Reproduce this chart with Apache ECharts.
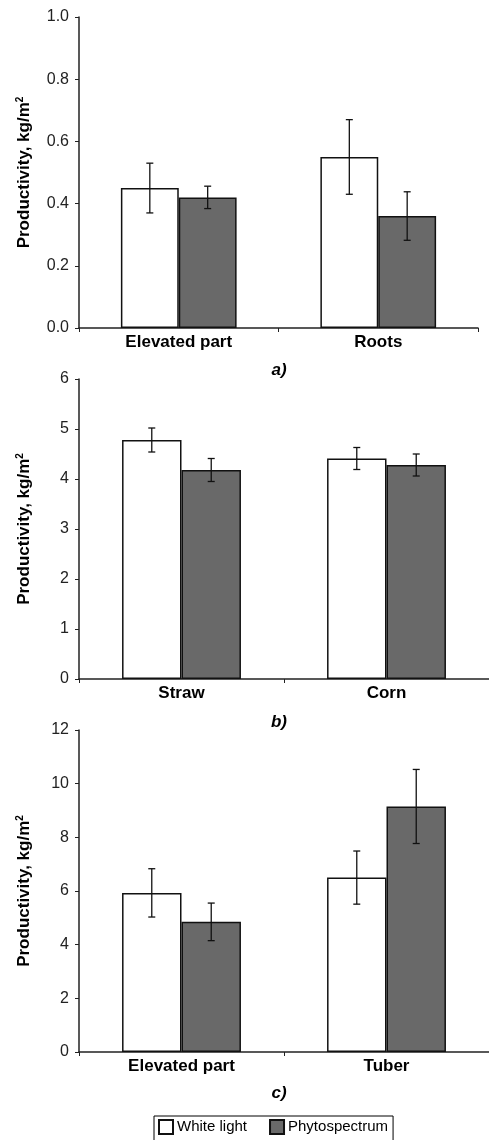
<!DOCTYPE html>
<html>
<head>
<meta charset="utf-8">
<script src="https://cdn.jsdelivr.net/npm/echarts@6/dist/echarts.min.js"></script>
<style>
html,body{margin:0;padding:0;background:#fff;}
#chart{width:489px;height:1140px;}
</style>
</head>
<body>
<div id="chart"></div>
<script>
const seriesNames = ['White light', 'Phytospectrum'];

const catsA = ['Elevated part', 'Roots'];
const whiteA = [0.45, 0.55];
const phytoA = [0.42, 0.36];
const errWhiteA = [0.08, 0.12];
const errPhytoA = [0.036, 0.078];

const catsB = ['Straw', 'Corn'];
const whiteB = [4.78, 4.41];
const phytoB = [4.18, 4.28];
const errWhiteB = [0.24, 0.22];
const errPhytoB = [0.23, 0.22];

const catsC = ['Elevated part', 'Tuber'];
const whiteC = [5.93, 6.5];
const phytoC = [4.85, 9.15];
const errWhiteC = [0.9, 0.99];
const errPhytoC = [0.7, 1.38];

const yMax = [1, 6, 12];
const yInterval = [0.2, 1, 2];
const panelLabels = ['a)', 'b)', 'c)'];

const panels = [
  {cats: catsA, w: whiteA, p: phytoA, ew: errWhiteA, ep: errPhytoA, dec: 1},
  {cats: catsB, w: whiteB, p: phytoB, ew: errWhiteB, ep: errPhytoB, dec: 0},
  {cats: catsC, w: whiteC, p: phytoC, ew: errWhiteC, ep: errPhytoC, dec: 0}
];

const grids = [
  {left: 79, top: 17, width: 399, height: 311},
  {left: 79, top: 379, width: 419, height: 300},
  {left: 79, top: 730, width: 419, height: 322}
];

const GAP = 0.42;
const axisColor = '#222';
const DARK = '#696969';

const xAxes = [], yAxes = [], series = [];
panels.forEach((pn, i) => {
  xAxes.push({
    type: 'category', gridIndex: i, data: pn.cats,
    axisLine: {lineStyle: {color: axisColor, width: 1.5}},
    axisTick: {show: true, length: 4, lineStyle: {color: axisColor}},
    axisLabel: {fontFamily: 'Liberation Sans, Arial, sans-serif', fontWeight: 'bold', fontSize: 17, color: '#000', margin: 6}
  });
  yAxes.push({
    type: 'value', gridIndex: i, min: 0, max: yMax[i], interval: yInterval[i],
    name: 'Productivity, kg/m{sup|2}', nameLocation: 'middle', nameGap: 45,
    nameTextStyle: {fontFamily: 'Liberation Sans, Arial, sans-serif', fontWeight: 'bold', fontSize: 17, color: '#000',
      rich: {sup: {fontSize: 10, fontWeight: 'bold', color: '#000', verticalAlign: 'top', padding: [0, 0, 9, 0]}}},
    splitLine: {show: false},
    axisLine: {show: true, lineStyle: {color: axisColor, width: 1.5}},
    axisTick: {show: true, length: 4, lineStyle: {color: axisColor}},
    axisLabel: {fontFamily: 'Liberation Sans, Arial, sans-serif', fontSize: 16, color: '#222', margin: 10,
      formatter: v => v.toFixed(pn.dec)}
  });
  series.push({
    name: seriesNames[0], type: 'bar', xAxisIndex: i, yAxisIndex: i, data: pn.w,
    barGap: '0%', barCategoryGap: (GAP * 100) + '%',
    itemStyle: {color: '#fff', borderColor: '#111', borderWidth: 1.5}
  });
  series.push({
    name: seriesNames[1], type: 'bar', xAxisIndex: i, yAxisIndex: i, data: pn.p,
    barGap: '0%', barCategoryGap: (GAP * 100) + '%',
    itemStyle: {color: DARK, borderColor: '#111', borderWidth: 1.5}
  });
  const errData = [];
  pn.cats.forEach((c, k) => {
    errData.push([k, pn.w[k] - pn.ew[k], pn.w[k] + pn.ew[k], -1]);
    errData.push([k, pn.p[k] - pn.ep[k], pn.p[k] + pn.ep[k], 1]);
  });
  series.push({
    type: 'custom', xAxisIndex: i, yAxisIndex: i, data: errData, z: 10, silent: true,
    encode: {x: 0, y: [1, 2]},
    renderItem: function (params, api) {
      const k = api.value(0);
      const lo = api.coord([k, api.value(1)]);
      const hi = api.coord([k, api.value(2)]);
      const band = api.size([1, 0])[0];
      const off = api.value(3) * band * (1 - GAP) / 4;
      const x = lo[0] + off;
      const cw = 3.5;
      const st = {stroke: '#111', lineWidth: 1.3};
      return {type: 'group', children: [
        {type: 'line', shape: {x1: x, y1: lo[1], x2: x, y2: hi[1]}, style: st},
        {type: 'line', shape: {x1: x - cw, y1: lo[1], x2: x + cw, y2: lo[1]}, style: st},
        {type: 'line', shape: {x1: x - cw, y1: hi[1], x2: x + cw, y2: hi[1]}, style: st}
      ]};
    }
  });
});

const labelTops = [357, 709, 1080];
const titles = panelLabels.map((t, i) => ({
  text: t, left: 274, top: labelTops[i], textAlign: 'center',
  textStyle: {fontFamily: 'Liberation Sans, Arial, sans-serif', fontWeight: 'bold', fontStyle: 'italic', fontSize: 17, color: '#000'}
}));

const chart = echarts.init(document.getElementById('chart'), null, {renderer: 'canvas'});
chart.setOption({
  backgroundColor: '#fff',
  animation: false,
  title: titles,
  grid: grids,
  xAxis: xAxes,
  yAxis: yAxes,
  legend: {
    data: seriesNames, left: 154, top: 1116, icon: 'rect',
    borderColor: '#000', borderWidth: 1, padding: [3, 5, 6, 4],
    itemWidth: 14, itemHeight: 14, itemGap: 22,
    textStyle: {fontFamily: 'Liberation Sans, Arial, sans-serif', fontSize: 15, color: '#000', padding: [0, 0, 0, -1]}
  },
  series: series
});
</script>
</body>
</html>
